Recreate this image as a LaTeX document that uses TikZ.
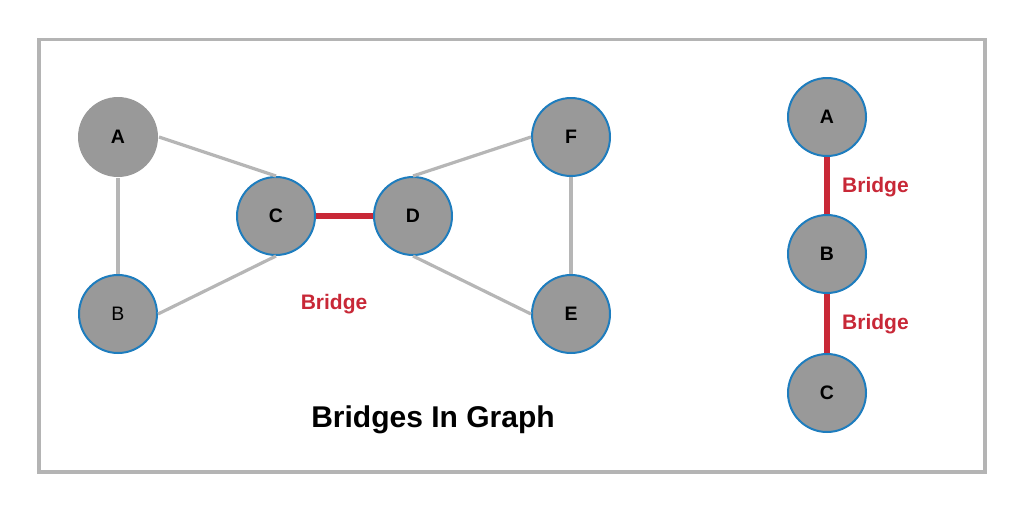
\documentclass[tikz,border=0pt]{standalone}
\usepackage{fontspec}
\setmainfont{Liberation Sans}
\definecolor{nodegray}{RGB}{153,153,153}
\definecolor{nodeblue}{RGB}{30,125,190}
\definecolor{edgegray}{RGB}{182,182,182}
\definecolor{framegray}{RGB}{180,180,180}
\definecolor{bridgered}{RGB}{200,40,55}
\begin{document}
\begin{tikzpicture}[x=1pt,y=-1pt,
  vertex/.style={circle,minimum size=78pt,inner sep=0pt,fill=nodegray,draw=nodeblue,line width=2pt,font=\fontsize{19.5}{21}\selectfont\bfseries},
  plainedge/.style={draw=edgegray,line width=3.2pt},
  bridgeedge/.style={draw=bridgered,line width=5.5pt},
  bridgelabel/.style={text=bridgered,font=\fontsize{21}{23}\selectfont\bfseries,inner sep=0pt}]
\useasboundingbox (0,0) rectangle (1024,512);
\draw[draw=framegray,line width=3.5pt] (39,39.5) rectangle (985,472);
% left graph
\node[vertex,draw=none,minimum size=80pt] (A) at (118,137) {A};
\node[vertex,font=\fontsize{19.5}{21}\selectfont] (B) at (118,314) {B};
\node[vertex] (C) at (276,216) {C};
\node[vertex] (D) at (413,216) {D};
\node[vertex] (F) at (571,137) {F};
\node[vertex] (E) at (571,314) {E};
\draw[plainedge] (A.east) -- (C.north);
\draw[plainedge] (A.south) -- (B.north);
\draw[plainedge] (C.south) -- (B.east);
\draw[plainedge] (D.north) -- (F.west);
\draw[plainedge] (D.south) -- (E.west);
\draw[plainedge] (F.south) -- (E.north);
\draw[bridgeedge] (C.east) -- (D.west);
\node[bridgelabel] (bl) at (334,304) {Bridge};
% right graph
\node[vertex] (RA) at (827,117) {A};
\node[vertex] (RB) at (827,254) {B};
\node[vertex] (RC) at (827,393) {C};
\draw[bridgeedge] (RA.south) -- (RB.north);
\draw[bridgeedge] (RB.south) -- (RC.north);
\node[bridgelabel,anchor=west] (rl1) at (842,187) {Bridge};
\node[bridgelabel,anchor=west] (rl2) at (842,324) {Bridge};
% title
\node[font=\fontsize{30}{34}\selectfont\bfseries] (title) at (433,420) {Bridges In Graph};
\end{tikzpicture}
\end{document}
